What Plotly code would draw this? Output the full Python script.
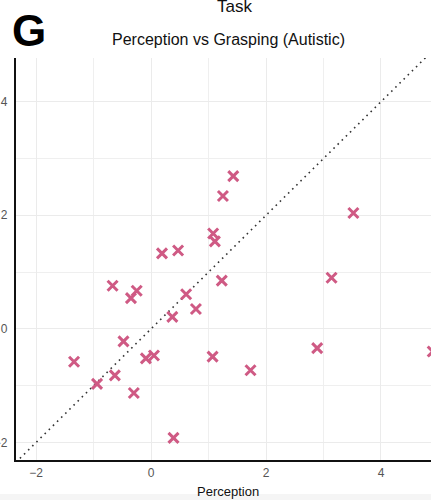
import plotly.graph_objects as go

# Per-participant scores (Autistic group)
perception = [-1.34, -0.94, -0.67, -0.63, -0.48, -0.35, -0.30, -0.25, -0.09, 0.05,
              0.19, 0.37, 0.39, 0.47, 0.61, 0.78, 1.07, 1.08, 1.11, 1.23,
              1.25, 1.43, 1.73, 2.89, 3.14, 3.52, 4.90]
grasping = [-0.58, -0.97, 0.76, -0.82, -0.22, 0.54, -1.13, 0.67, -0.52, -0.47,
            1.33, 0.21, -1.92, 1.38, 0.61, 0.35, -0.49, 1.68, 1.54, 0.85,
            2.34, 2.69, -0.73, -0.34, 0.90, 2.04, -0.40]

identity = [-3, 6]
x_ticks = [-2, 0, 2, 4]
y_ticks = [-2, 0, 2, 4]

W, H = 431, 500
ML, MR, MT, MB = 16, 0, 58, 40
pw, ph = W - ML - MR, H - MT - MB

def px(xp):
    return (xp - ML) / pw

def py(yp):
    return (H - MB - yp) / ph

FONT = "Liberation Sans, Arial, sans-serif"
PINK = "#cf5a84"

fig = go.Figure()

# identity line y = x
fig.add_trace(go.Scatter(
    x=identity, y=identity, mode="lines",
    line=dict(color="#333333", width=1.6, dash="1.6px,4.2px"),
    hoverinfo="skip", showlegend=False,
))

fig.add_trace(go.Scatter(
    x=perception, y=grasping, mode="markers",
    marker=dict(symbol="x-thin", size=10, color=PINK,
                line=dict(color=PINK, width=3)),
    showlegend=False,
))

axis_common = dict(
    automargin=False,
    showgrid=True, gridcolor="#ebebeb", gridwidth=1,
    zeroline=False, showline=True, linecolor="#111111", linewidth=2.2,
    ticks="", tickfont=dict(family=FONT, size=12, color="#555555"),
    minor=dict(dtick=1, showgrid=True, gridcolor="#efefef", gridwidth=1),
)

fig.update_xaxes(range=[-2.35, 4.87], tickvals=x_ticks, dtick=2,
                 ticklabelstandoff=0, **axis_common)
fig.update_yaxes(range=[-2.31, 4.77], tickvals=y_ticks, dtick=2,
                 ticklabelstandoff=4, **axis_common)

annotations = [
    dict(text="Task", x=px(234), y=py(7), xanchor="center", yanchor="middle",
         font=dict(family=FONT, size=17, color="#111111")),
    dict(text="Perception vs Grasping (Autistic)", x=px(228), y=py(39),
         xanchor="center", yanchor="middle",
         font=dict(family=FONT, size=16, color="#111111")),
    dict(text="<b>G</b>", x=px(29), y=py(31), xanchor="center", yanchor="middle",
         font=dict(family=FONT, size=44, color="#000000")),
    dict(text="Perception", x=px(228), y=py(491), xanchor="center", yanchor="middle",
         font=dict(family=FONT, size=13, color="#111111")),
]
for a in annotations:
    a.update(xref="paper", yref="paper", showarrow=False)

fig.update_layout(
    width=W, height=H,
    margin=dict(l=ML, r=MR, t=MT, b=MB, pad=0, autoexpand=False),
    paper_bgcolor="white", plot_bgcolor="white",
    annotations=annotations,
    shapes=[dict(type="rect", xref="paper", yref="paper",
                 x0=px(0), x1=px(W), y0=py(500), y1=py(494),
                 fillcolor="#f5f5f5", line=dict(width=0), layer="below")],
    showlegend=False,
)

fig.write_html("out.html", config={"displayModeBar": False})
